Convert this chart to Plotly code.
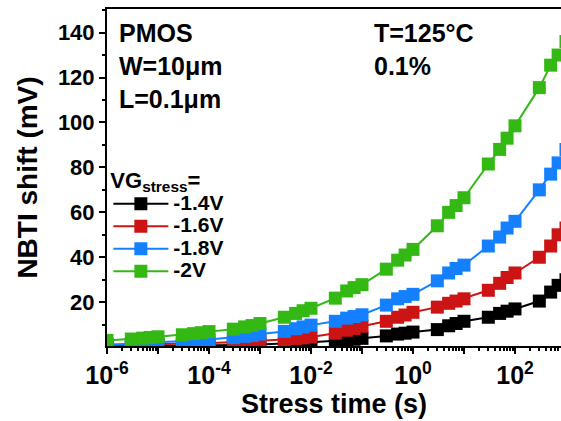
import plotly.graph_objects as go

# Stress times (s)
times = [1e-6,
         3e-6, 5e-6, 7e-6, 1e-5,
         3e-5, 5e-5, 7e-5, 1e-4,
         3e-4, 5e-4, 7e-4, 1e-3,
         3e-3, 5e-3, 7e-3, 1e-2,
         3e-2, 5e-2, 7e-2, 1e-1,
         3e-1, 5e-1, 7e-1, 1e0,
         3e0, 5e0, 7e0, 1e1,
         3e1, 5e1, 7e1, 1e2,
         3e2, 5e2, 7e2, 1e3]

# NBTI shift (mV) for each VG stress
vg_m14 = [0.2,
          0.3, 0.35, 0.4, 0.45,
          0.55, 0.6, 0.65, 0.7,
          0.9, 1.0, 1.1, 1.2,
          1.6, 1.8, 2.0, 2.2,
          2.8, 3.2, 3.5, 3.9,
          5.0, 5.8, 6.2, 6.7,
          7.8, 9.5, 10.5, 11.5,
          13.3, 15.0, 16.0, 17.0,
          20.5, 24.5, 27.5, 30.0]
vg_m16 = [0.8,
          1.0, 1.1, 1.2, 1.3,
          1.5, 1.6, 1.7, 1.8,
          2.2, 2.4, 2.6, 2.8,
          3.4, 3.8, 4.1, 4.5,
          6.2, 7.5, 8.3, 9.3,
          11.5, 13.3, 14.3, 15.5,
          17.8, 19.5, 20.5, 21.5,
          25.3, 28.4, 31.0, 33.0,
          40.0, 45.0, 50.0, 53.0]
vg_m18 = [1.2,
          1.5, 1.6, 1.7, 2.2,
          2.6, 2.9, 3.1, 3.4,
          4.2, 4.8, 5.2, 5.8,
          7.0, 8.2, 9.0, 9.8,
          11.5, 12.9, 13.6, 14.4,
          18.7, 21.5, 22.5, 23.5,
          29.5, 33.0, 35.0, 36.5,
          45.0, 49.0, 53.0, 56.0,
          70.0, 77.0, 82.0, 88.0]
vg_m20 = [3.0,
          3.6, 4.0, 4.3, 4.6,
          5.5, 6.0, 6.4, 6.9,
          8.0, 9.0, 9.6, 10.5,
          13.3, 15.0, 16.2, 17.3,
          21.8, 25.0, 26.5, 27.8,
          34.7, 38.7, 41.0, 43.5,
          54.0, 60.0, 63.0, 66.5,
          81.5, 88.0, 93.0, 98.5,
          115.5, 125.5, 130.0, 136.0]

series_names = ["-1.4V", "-1.6V", "-1.8V", "-2V"]
series_colors = ["#000000", "#CC1414", "#1480FF", "#33B814"]
series_values = [vg_m14, vg_m16, vg_m18, vg_m20]

x_major = [1e-6, 1e-5, 1e-4, 1e-3, 1e-2, 1e-1, 1e0, 1e1, 1e2, 1e3]
x_labels = ["10<sup>-6</sup>", "", "10<sup>-4</sup>", "", "10<sup>-2</sup>", "",
            "10<sup>0</sup>", "", "10<sup>2</sup>", ""]
x_minor = [m * d for d in x_major[:-1] for m in range(2, 10)]
y_major = [20, 40, 60, 80, 100, 120, 140]
y_minor = [10, 30, 50, 70, 90, 110, 130, 150]

FONT = "Liberation Sans, Arial, sans-serif"

fig = go.Figure()
for name, color, vals in zip(series_names, series_colors, series_values):
    fig.add_trace(go.Scatter(
        x=times, y=vals, name="<span style='font-size:21px'>" + name + "</span>",
        mode="lines+markers",
        line=dict(color=color, width=2),
        marker=dict(symbol="square", size=13, color=color, line=dict(width=0)),
    ))

fig.update_layout(
    width=561, height=421,
    margin=dict(l=107, r=0, t=9, b=75),
    paper_bgcolor="white", plot_bgcolor="white",
    font=dict(family=FONT, size=22, color="black", weight="bold"),
    legend=dict(
        x=0.003, y=0.555, xanchor="left", yanchor="top",
        bgcolor="rgba(0,0,0,0)",
        title=dict(text="VG<sub>stress</sub>=", font=dict(size=22, weight="bold")),
        font=dict(size=15, weight="bold"),
        itemwidth=55,
        tracegroupgap=0,
    ),
    showlegend=True,
)

fig.update_xaxes(
    type="log", range=[-6, 2.902],
    tickmode="array", tickvals=x_major, ticktext=x_labels,
    ticks="outside", ticklen=6, tickwidth=2, tickcolor="black",
    minor=dict(tickmode="array", tickvals=x_minor, ticks="outside",
               ticklen=3, tickwidth=1.5, tickcolor="black"),
    showline=True, linewidth=2, linecolor="black", mirror=True,
    showgrid=False, zeroline=False,
    tickfont=dict(size=25, weight="bold"),
    title=dict(text="Stress time (s)", font=dict(size=27, weight="bold"), standoff=2),
)
fig.update_yaxes(
    range=[0.5, 150.5],
    tickmode="array", tickvals=y_major,
    ticks="outside", ticklen=6, tickwidth=2, tickcolor="black",
    minor=dict(tickmode="array", tickvals=y_minor, ticks="outside",
               ticklen=3, tickwidth=1.5, tickcolor="black"),
    showline=True, linewidth=2, linecolor="black", mirror=False,
    showgrid=False, zeroline=False,
    tickfont=dict(size=22, weight="bold"),
    title=dict(text="NBTI shift (mV)", font=dict(size=28, weight="bold"), standoff=12),
)

notes = [("PMOS", 0.022, 0.929), ("W=10\u03bcm", 0.022, 0.831), ("L=0.1\u03bcm", 0.022, 0.733),
         ("T=125\u00b0C", 0.583, 0.929), ("0.1%", 0.583, 0.831)]
for txt, xx, yy in notes:
    fig.add_annotation(text=txt, x=xx, y=yy, xref="paper", yref="paper",
                       xanchor="left", yanchor="middle", showarrow=False,
                       font=dict(size=25, weight="bold", family=FONT))

fig.write_html("out.html")
